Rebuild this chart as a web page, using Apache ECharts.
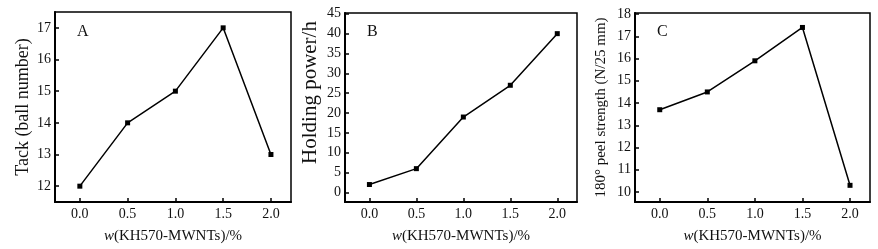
<!DOCTYPE html>
<html>
<head>
<meta charset="utf-8">
<script src="https://cdn.jsdelivr.net/npm/echarts@6/dist/echarts.min.js"></script>
<style>
html,body{margin:0;padding:0;background:#fff;}
#c{width:878px;height:249px;}
</style>
</head>
<body>
<div id="c"></div>
<script>
const xValues = [0.0, 0.5, 1.0, 1.5, 2.0];
const xTicks = [0.0, 0.5, 1.0, 1.5, 2.0];
const tackValues = [12, 14, 15, 17, 13];
const holdingValues = [2, 6, 19, 27, 40];
const peelValues = [13.7, 14.5, 15.9, 17.4, 10.3];
const tackTicks = [12, 13, 14, 15, 16, 17];
const holdingTicks = [0, 5, 10, 15, 20, 25, 30, 35, 40, 45];
const peelTicks = [10, 11, 12, 13, 14, 15, 16, 17, 18];
const panelLetters = ['A', 'B', 'C'];
const yNames = ['Tack (ball number)', 'Holding power/h', '180\u00b0 peel strength (N/25 mm)'];
const xName = '{i|w}(KH570-MWNTs)/%';

const FONT = '"Liberation Serif", "Times New Roman", serif';
const grids = [
  {left: 55, top: 12, width: 236, height: 190},
  {left: 345, top: 13, width: 232, height: 189},
  {left: 635, top: 13, width: 235, height: 189}
];
const yRanges = [[11.5, 17.5], [-2.4, 45.2], [9.55, 18.05]];
const yTickSets = [tackTicks, holdingTicks, peelTicks];
const seriesData = [tackValues, holdingValues, peelValues];
const yNameSizes = [18, 21, 15];
const yNameGaps = [23, 24, 26];
const yNamePads = [[0, 0, 0, 0], [0, 0, 0, 30], [0, 0, 0, 0]];

const option = {
  backgroundColor: '#fff',
  animation: false,
  grid: grids.map(g => Object.assign({show: true, borderColor: '#000', borderWidth: 1.5, backgroundColor: 'transparent'}, g)),
  xAxis: grids.map((g, i) => ({
    type: 'value', gridIndex: i, min: -0.26, max: 2.21,
    name: xName, nameLocation: 'middle', nameGap: 27,
    nameTextStyle: {fontFamily: FONT, fontSize: 15, color: '#111',
      rich: {i: {fontFamily: FONT, fontStyle: 'italic', fontSize: 15, color: '#111'}}},
    axisLine: {show: true, onZero: false, lineStyle: {color: '#000', width: 2}},
    axisTick: {show: true, inside: true, length: 4, customValues: xTicks, lineStyle: {color: '#000', width: 1.5}},
    axisLabel: {show: true, customValues: xTicks, margin: 5, fontFamily: FONT, fontSize: 14, color: '#111',
      formatter: v => Number(v).toFixed(1)},
    splitLine: {show: false}
  })),
  yAxis: grids.map((g, i) => ({
    type: 'value', gridIndex: i, min: yRanges[i][0], max: yRanges[i][1],
    name: yNames[i], nameLocation: 'middle', nameGap: yNameGaps[i],
    nameTextStyle: {fontFamily: FONT, fontSize: yNameSizes[i], color: '#111', padding: yNamePads[i]},
    axisLine: {show: true, onZero: false, lineStyle: {color: '#000', width: 2}},
    axisTick: {show: true, inside: true, length: 4, customValues: yTickSets[i], lineStyle: {color: '#000', width: 1.5}},
    axisLabel: {show: true, customValues: yTickSets[i], margin: 4, fontFamily: FONT, fontSize: 14, color: '#111'},
    splitLine: {show: false}
  })),
  graphic: grids.map((g, i) => ({
    type: 'text', left: g.left + 22, top: 24,
    style: {text: panelLetters[i], font: '16px ' + FONT, fill: '#111'}
  })),
  series: seriesData.map((d, i) => ({
    type: 'line', xAxisIndex: i, yAxisIndex: i,
    data: xValues.map((x, k) => [x, d[k]]),
    symbol: 'rect', symbolSize: 5,
    lineStyle: {color: '#000', width: 1.5},
    itemStyle: {color: '#000'}
  }))
};
const chart = echarts.init(document.getElementById('c'), null, {renderer: 'canvas'});
chart.setOption(option);
</script>
</body>
</html>
